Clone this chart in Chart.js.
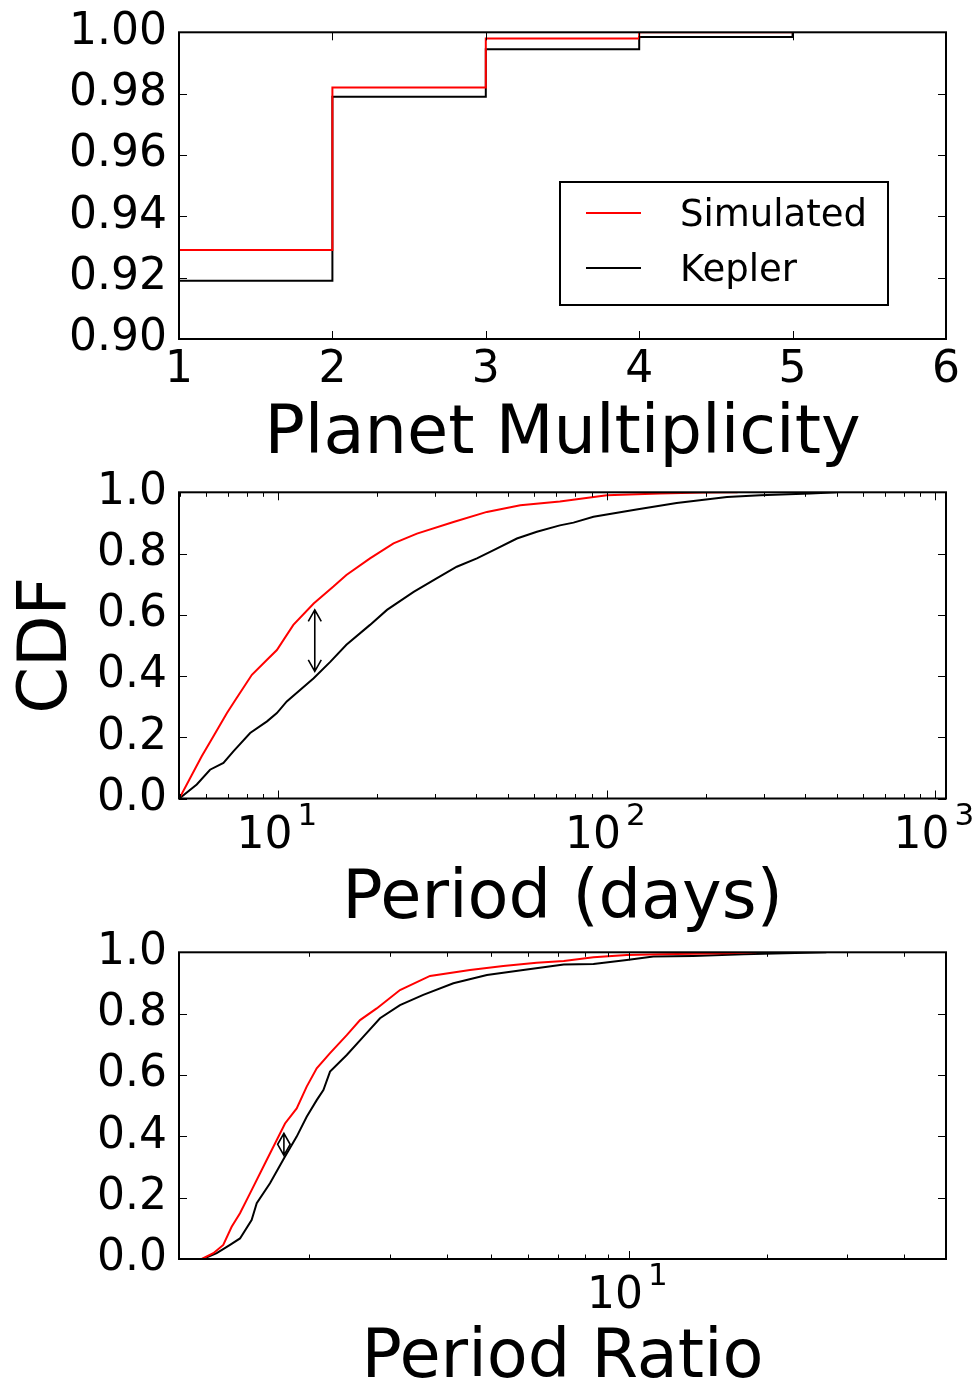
<!DOCTYPE html>
<html><head><meta charset="utf-8">
<script src="https://cdn.jsdelivr.net/npm/chart.js@4.4.1/dist/chart.umd.min.js"></script>
<style>
html,body{margin:0;padding:0;background:#fff;}
#wrap{position:relative;width:976px;height:1385px;overflow:hidden;background:#fff;}
canvas{position:absolute;left:0;}
</style></head><body>
<div id="wrap">
<canvas id="c1" width="976" height="470" style="top:0px;width:976px;height:470px"></canvas>
<canvas id="c2" width="976" height="465" style="top:470px;width:976px;height:465px"></canvas>
<canvas id="c3" width="976" height="470" style="top:915px;width:976px;height:470px"></canvas>
</div>
<script>
// ---------- Panel 1: planet multiplicity CDF ----------
const multX = [1, 2, 3, 4, 5];
const multSim = [0.929, 0.982, 0.998, 1.0, 1.0];
const multKep = [0.919, 0.979, 0.9945, 0.9985, 1.0];
const multYTicks = [0.90, 0.92, 0.94, 0.96, 0.98, 1.00];

// ---------- Panel 2: period CDF ----------
const periodSimX = [4.99, 5.84, 6.34, 6.97, 7.46, 8.30, 9.23, 9.89, 11.1, 12.8, 14.7, 16.1, 19.0, 22.4, 26.4, 34.1, 43.1, 54.5, 71.9, 100, 145, 196, 250];
const periodSimY = [0, 0.138, 0.203, 0.279, 0.328, 0.404, 0.453, 0.485, 0.567, 0.637, 0.692, 0.730, 0.784, 0.833, 0.865, 0.903, 0.936, 0.958, 0.970, 0.990, 0.996, 0.999, 1.0];
const periodKepX = [4.99, 5.64, 6.19, 6.80, 7.29, 8.20, 9.23, 9.89, 10.6, 12.8, 14.4, 16.1, 19.0, 21.4, 25.8, 30.3, 34.9, 40.2, 45.2, 53.2, 61.2, 71.9, 79.1, 91.0, 123, 163, 232, 293, 416, 500];
const periodKepY = [0, 0.046, 0.094, 0.116, 0.154, 0.214, 0.252, 0.279, 0.317, 0.393, 0.447, 0.502, 0.567, 0.616, 0.675, 0.719, 0.757, 0.784, 0.811, 0.849, 0.871, 0.892, 0.901, 0.920, 0.944, 0.965, 0.985, 0.990, 0.996, 1.0];
const periodRange = [4.98, 1077];
const periodTickExps = [1, 2, 3];
const periodArrowX = 12.9;
const periodArrowY = [0.415, 0.616];

// ---------- Panel 3: period ratio CDF ----------
const ratioSimX = [1.038, 1.164, 1.234, 1.297, 1.353, 1.411, 1.484, 1.614, 1.770, 1.877, 1.974, 2.076, 2.220, 2.415, 2.582, 2.808, 3.157, 3.672, 4.49, 5.31, 6.28, 7.2, 8.36, 9.89, 11.7, 16.4, 19.0];
const ratioSimY = [0, 0, 0.019, 0.046, 0.105, 0.149, 0.214, 0.323, 0.442, 0.491, 0.562, 0.622, 0.671, 0.730, 0.779, 0.817, 0.877, 0.923, 0.942, 0.955, 0.966, 0.972, 0.984, 0.991, 0.994, 0.997, 1.0];
const ratioKepX = [1.038, 1.17, 1.255, 1.342, 1.411, 1.496, 1.535, 1.641, 1.770, 1.877, 1.974, 2.076, 2.147, 2.220, 2.415, 2.626, 2.855, 3.157, 3.549, 4.13, 4.89, 5.87, 7.2, 8.36, 9.89, 11.3, 13.8, 17.8, 27.0];
const ratioKepY = [0, 0, 0.019, 0.046, 0.067, 0.127, 0.182, 0.247, 0.334, 0.399, 0.464, 0.518, 0.551, 0.611, 0.665, 0.725, 0.785, 0.828, 0.861, 0.899, 0.926, 0.942, 0.960, 0.962, 0.975, 0.986, 0.988, 0.994, 1.0];
const ratioRange = [1.038, 49.3];
const ratioTickExps = [1];
const ratioArrowX = 1.76;
const ratioArrowY = [0.338, 0.41];

const cdfYTicks = [0, 0.2, 0.4, 0.6, 0.8, 1.0];
const seriesNames = ['Simulated', 'Kepler'];
const seriesColors = ['#ff0000', '#000000'];

const FAM = '"DejaVu Sans"';
Chart.defaults.font.family = 'DejaVu Sans';
Chart.defaults.color = '#000';

const pts = (xs, ys) => xs.map((x, i) => ({x, y: ys[i]}));

function tickList(scale) {
  const out = [];
  if (scale.type === 'logarithmic') {
    const e0 = Math.floor(Math.log10(scale.min)), e1 = Math.ceil(Math.log10(scale.max));
    for (let e = e0; e <= e1; e++) for (let m = 1; m <= 9; m++) {
      const v = m * Math.pow(10, e);
      if (v >= scale.min && v <= scale.max) out.push({v, major: m === 1});
    }
  } else {
    scale.ticks.forEach(t => out.push({v: t.value, major: true}));
  }
  return out;
}

const axesDecor = {
  id: 'axesDecor',
  afterDraw(chart) {
    const {ctx, chartArea: a, scales: {x, y}} = chart;
    ctx.save();
    ctx.strokeStyle = '#000';
    ctx.lineWidth = 1;
    ctx.beginPath();
    tickList(x).forEach(t => {
      const p = Math.round(x.getPixelForValue(t.v)) + 0.5;
      const L = t.major ? 8 : 4.5;
      ctx.moveTo(p, a.bottom); ctx.lineTo(p, a.bottom - L);
      ctx.moveTo(p, a.top); ctx.lineTo(p, a.top + L);
    });
    tickList(y).forEach(t => {
      const p = Math.round(y.getPixelForValue(t.v)) + 0.5;
      const L = t.major ? 8 : 4.5;
      ctx.moveTo(a.left, p); ctx.lineTo(a.left + L, p);
      ctx.moveTo(a.right, p); ctx.lineTo(a.right - L, p);
    });
    ctx.stroke();
    ctx.lineWidth = 2;
    ctx.strokeRect(a.left, a.top, a.right - a.left, a.bottom - a.top);
    ctx.restore();
  }
};

const powLabels = {
  id: 'powLabels',
  afterDraw(chart, args, opts) {
    const {ctx, chartArea: a, scales: {x}} = chart;
    ctx.save();
    ctx.fillStyle = '#000';
    ctx.textAlign = 'left';
    ctx.textBaseline = 'alphabetic';
    (opts.exps || []).forEach(e => {
      const p = x.getPixelForValue(Math.pow(10, e));
      ctx.font = '44px ' + FAM;
      ctx.fillText('10', p - 42, a.bottom + 49);
      ctx.font = '31px ' + FAM;
      ctx.fillText(String(e), p + 19, a.bottom + 26);
    });
    ctx.restore();
  }
};

const arrowPlug = {
  id: 'arrowPlug',
  afterDatasetsDraw(chart, args, opts) {
    if (!opts.x) return;
    const {ctx, scales: {x, y}} = chart;
    const px = x.getPixelForValue(opts.x);
    const y1 = y.getPixelForValue(opts.y[1]);
    const y0 = y.getPixelForValue(opts.y[0]);
    const hl = 11.5, hw = 6.5;
    ctx.save();
    ctx.strokeStyle = '#000';
    ctx.lineWidth = 1.6;
    ctx.beginPath();
    ctx.moveTo(px, y1); ctx.lineTo(px, y0);
    ctx.moveTo(px - hw, y1 + hl); ctx.lineTo(px, y1); ctx.lineTo(px + hw, y1 + hl);
    ctx.moveTo(px - hw, y0 - hl); ctx.lineTo(px, y0); ctx.lineTo(px + hw, y0 - hl);
    ctx.stroke();
    ctx.restore();
  }
};

const legendBox = {
  id: 'legendBox',
  afterDraw(chart, args, opts) {
    if (!opts.show) return;
    const {ctx, chartArea: a} = chart;
    const w = 328, h = 123;
    const x0 = a.right - 58 - w, y0 = a.bottom - 34 - h;
    ctx.save();
    ctx.fillStyle = '#fff';
    ctx.fillRect(x0, y0, w, h);
    ctx.strokeStyle = '#000';
    ctx.lineWidth = 2;
    ctx.strokeRect(x0, y0, w, h);
    chart.data.datasets.forEach((ds, i) => {
      const ly = y0 + 31 + i * 55;
      ctx.strokeStyle = ds.borderColor;
      ctx.lineWidth = 2;
      ctx.beginPath(); ctx.moveTo(x0 + 26, ly); ctx.lineTo(x0 + 81, ly); ctx.stroke();
      ctx.fillStyle = '#000';
      ctx.font = '37px ' + FAM;
      ctx.textBaseline = 'alphabetic';
      ctx.fillText(ds.label, x0 + 120, ly + 12.5);
    });
    ctx.restore();
  }
};

function lineDs(i, data, stepped) {
  return {label: seriesNames[i], data, borderColor: seriesColors[i], backgroundColor: seriesColors[i],
    borderWidth: 2, pointRadius: 0, fill: false, tension: 0, stepped: stepped ? 'before' : false};
}

function yAxis(min, max, step, dec, title) {
  const ax = {
    type: 'linear', min, max,
    ticks: {stepSize: step, callback: v => Number(v).toFixed(dec), font: {size: 44, lineHeight: 0.5}, padding: 12, color: '#000'},
    grid: {display: false, drawTicks: false}, border: {display: false},
    afterFit: s => { s.width = 179; s.paddingTop = 0; s.paddingBottom = 0; }
  };
  if (title) ax.title = {display: true, text: title, color: '#000', font: {size: 67, lineHeight: 0.75}, padding: {top: 23.75, bottom: 0}};
  return ax;
}

function baseOpts(padTop, xAxis, yAx, plug) {
  return {
    responsive: false, animation: false, devicePixelRatio: 1, events: [],
    layout: {padding: {top: padTop, right: 30, left: 0, bottom: 0}},
    plugins: Object.assign({legend: {display: false}, tooltip: {enabled: false}}, plug),
    scales: {x: xAxis, y: yAx}
  };
}

function xFit(h) {
  return s => { s.height = h; s.paddingLeft = 0; s.paddingRight = 0; };
}

// Chart 1
new Chart(document.getElementById('c1'), {
  type: 'line',
  data: {datasets: [lineDs(0, pts(multX, multSim), true), lineDs(1, pts(multX, multKep), true)]},
  options: baseOpts(32.3, {
      type: 'linear', min: 1, max: 6,
      ticks: {stepSize: 1, font: {size: 44}, padding: 5, color: '#000', maxRotation: 0, autoSkip: false},
      grid: {display: false, drawTicks: false}, border: {display: false},
      title: {display: true, text: 'Planet Multiplicity', color: '#000', font: {size: 67, lineHeight: 0.75}, padding: {top: 0, bottom: 8.9}},
      afterFit: xFit(131)
    },
    yAxis(multYTicks[0], multYTicks[multYTicks.length - 1], 0.02, 2, null),
    {legendBox: {show: true}}),
  plugins: [axesDecor, legendBox]
});

// Chart 2
new Chart(document.getElementById('c2'), {
  type: 'line',
  data: {datasets: [lineDs(0, pts(periodSimX, periodSimY), false), lineDs(1, pts(periodKepX, periodKepY), false)]},
  options: baseOpts(22.3, {
      type: 'logarithmic', min: periodRange[0], max: periodRange[1],
      ticks: {display: false},
      grid: {display: false, drawTicks: false}, border: {display: false},
      title: {display: true, text: 'Period (days)', color: '#000', font: {size: 67, lineHeight: 0.75}, padding: {top: 0, bottom: 9.4}},
      afterFit: xFit(136.5)
    },
    yAxis(cdfYTicks[0], cdfYTicks[cdfYTicks.length - 1], 0.2, 1, 'CDF'),
    {powLabels: {exps: periodTickExps}, arrowPlug: {x: periodArrowX, y: periodArrowY}}),
  plugins: [axesDecor, powLabels, arrowPlug]
});

// Chart 3
new Chart(document.getElementById('c3'), {
  type: 'line',
  data: {datasets: [lineDs(0, pts(ratioSimX, ratioSimY), false), lineDs(1, pts(ratioKepX, ratioKepY), false)]},
  options: baseOpts(37.3, {
      type: 'logarithmic', min: ratioRange[0], max: ratioRange[1],
      ticks: {display: false},
      grid: {display: false, drawTicks: false}, border: {display: false},
      title: {display: true, text: 'Period Ratio', color: '#000', font: {size: 67, lineHeight: 0.75}, padding: {top: 0, bottom: 0.4}},
      afterFit: xFit(126)
    },
    yAxis(cdfYTicks[0], cdfYTicks[cdfYTicks.length - 1], 0.2, 1, null),
    {powLabels: {exps: ratioTickExps}, arrowPlug: {x: ratioArrowX, y: ratioArrowY}}),
  plugins: [axesDecor, powLabels, arrowPlug]
});
</script>
</body></html>
